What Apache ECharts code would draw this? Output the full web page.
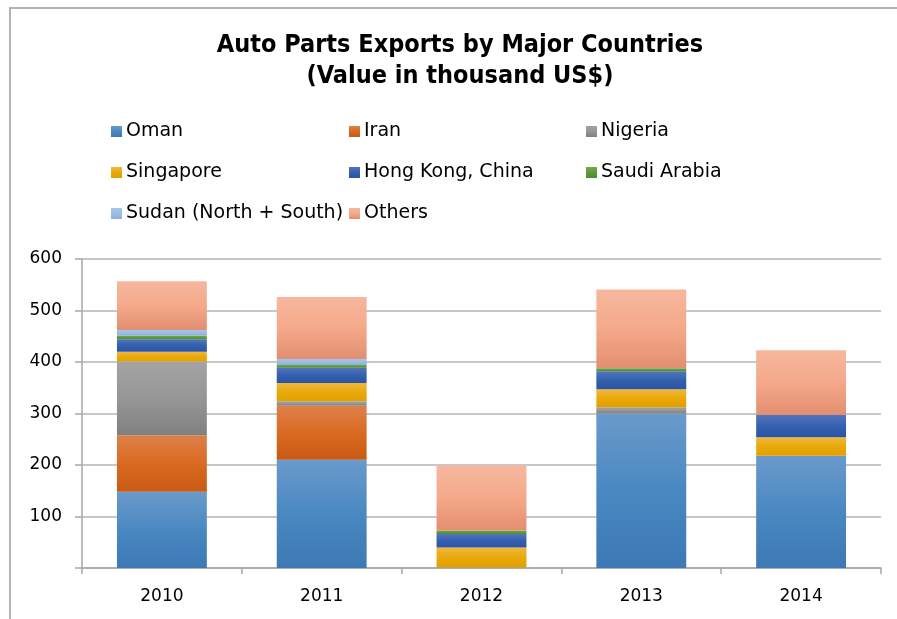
<!DOCTYPE html>
<html>
<head>
<meta charset="utf-8">
<script src="https://cdn.jsdelivr.net/npm/echarts@6/dist/echarts.min.js"></script>
<style>
html,body{margin:0;padding:0;background:#fff;}
#c{width:897px;height:619px;}
</style>
</head>
<body>
<div id="c"></div>
<script>
const years = ['2010', '2011', '2012', '2013', '2014'];
const oman = [148, 210, 1, 300, 218];
const iran = [110, 105, 0, 0, 0];
const nigeria = [143, 9, 0, 12, 0];
const singapore = [19, 35, 39, 35, 36];
const hongKong = [24, 30, 26, 35, 43];
const saudi = [7, 5, 7, 6, 0];
const sudan = [11, 12, 0, 0, 0];
const others = [95, 120, 126, 153, 126];
const yTicks = [0, 100, 200, 300, 400, 500, 600];
const titleText = 'Auto Parts Exports by Major Countries\n(Value in thousand US$)';

const names = ['Oman', 'Iran', 'Nigeria', 'Singapore', 'Hong Kong, China', 'Saudi Arabia', 'Sudan (North + South)', 'Others'];
const values = [oman, iran, nigeria, singapore, hongKong, saudi, sudan, others];
const grads = [
  ['#6a9acb', '#4a88c2', '#3d79b4'],
  ['#dd804c', '#da6a20', '#c85a16'],
  ['#a3a3a3', '#969696', '#808080'],
  ['#f0b73e', '#e9a90a', '#e2a000'],
  ['#5175be', '#3560ae', '#2a54a4'],
  ['#6fab46', '#5e9c3a', '#4f8b2f'],
  ['#a8c6e7', '#9bbce3', '#8cb1dc'],
  ['#f6b79e', '#f5a98a', '#e38e70']
];
function grad(c) {
  return new echarts.graphic.LinearGradient(0, 0, 0, 1, [
    {offset: 0, color: c[0]}, {offset: 0.5, color: c[1]}, {offset: 1, color: c[2]}
  ]);
}
const FONT = 'DejaVu Sans';
const series = names.map((n, i) => ({
  name: n,
  type: 'bar',
  stack: 'total',
  barWidth: '56.25%',
  data: values[i],
  itemStyle: {color: grad(grads[i])},
  emphasis: {disabled: true}
}));

function legendCol(left, data) {
  return {
    orient: 'vertical',
    left: left,
    top: 116,
    icon: 'rect',
    itemWidth: 11,
    itemHeight: 11,
    itemGap: 20,
    data: data,
    selectedMode: false,
    textStyle: {fontFamily: FONT, fontSize: 19, color: '#000', lineHeight: 21, padding: [0, 0, 0, -1]}
  };
}

const chart = echarts.init(document.getElementById('c'), null, {renderer: 'canvas'});
chart.setOption({
  animation: false,
  backgroundColor: '#fff',
  legend: [
    legendCol(106, ['Oman', 'Singapore', 'Sudan (North + South)']),
    legendCol(344, ['Iran', 'Hong Kong, China', 'Others']),
    legendCol(581, ['Nigeria', 'Saudi Arabia'])
  ],
  graphic: [{
    type: 'rect',
    shape: {x: 10, y: 8, width: 900, height: 640},
    style: {fill: 'none', stroke: '#b4b4b4', lineWidth: 2},
    silent: true
  }, {
    type: 'text',
    x: 460,
    y: 30,
    silent: true,
    style: {
      text: titleText,
      align: 'center',
      verticalAlign: 'top',
      fill: '#000',
      fontFamily: 'DejaVu Sans Condensed',
      fontWeight: 'bold',
      fontSize: 25,
      lineHeight: 31
    }
  }],
  grid: {left: 82, right: 16, top: 259, bottom: 51},
  xAxis: {
    type: 'category',
    data: years,
    boundaryGap: true,
    axisLine: {lineStyle: {color: '#a6a6a6', width: 1.5}},
    axisTick: {show: true, length: 6, lineStyle: {color: '#a6a6a6', width: 1.5}},
    axisLabel: {fontFamily: FONT, fontSize: 17, color: '#000', margin: 20}
  },
  yAxis: {
    type: 'value',
    min: yTicks[0],
    max: yTicks[yTicks.length - 1],
    interval: 100,
    axisLine: {show: true, lineStyle: {color: '#a6a6a6', width: 1.5}},
    axisTick: {show: true, length: 7, lineStyle: {color: '#a6a6a6', width: 1.5}},
    splitLine: {lineStyle: {color: '#b4b4b4', width: 1.5}},
    axisLabel: {
      fontFamily: FONT, fontSize: 17, color: '#000', margin: 20,
      formatter: v => (v === 0 ? '' : String(v))
    }
  },
  series: series
});
</script>
</body>
</html>
